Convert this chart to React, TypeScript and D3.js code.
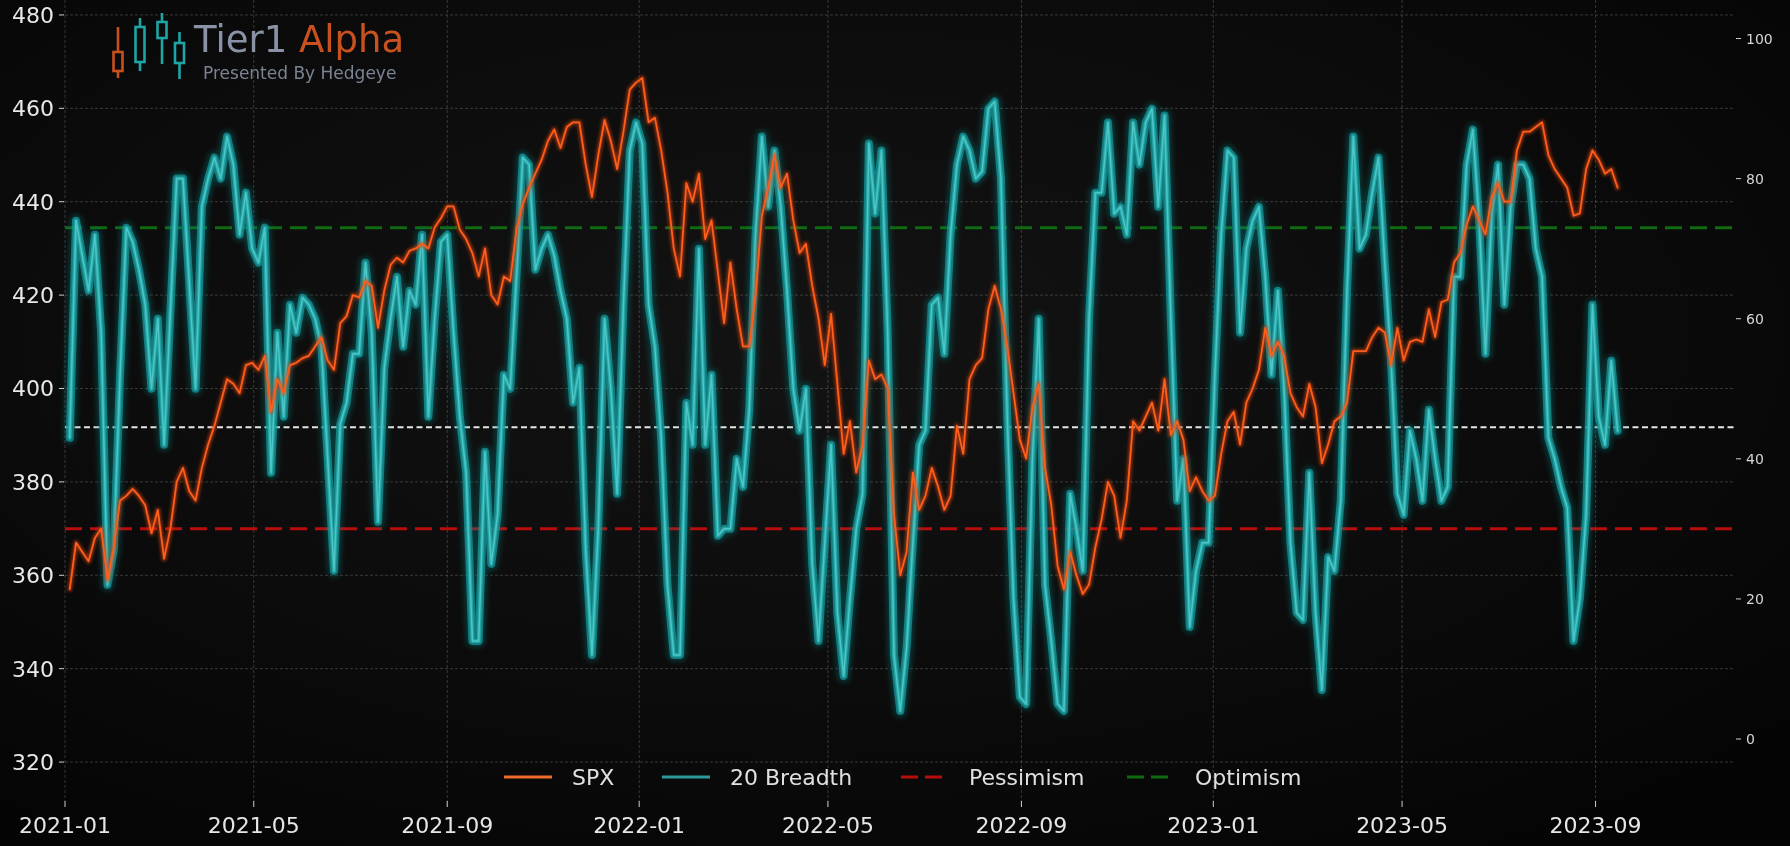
import React from 'react';
import * as d3 from 'd3';

// sampling grid: one reading every 4 calendar days from the first session
const startDate = '2021-01-04';
const stepDays = 4;

// SPX (adjusted), left axis
const spx = [
  357, 367, 365, 363, 368, 370, 359, 366, 376, 377, 378.5, 377, 375, 369, 374, 363.5, 370, 380, 383, 378,
  376, 383, 388, 392, 397, 402, 401, 399, 405, 405.5, 404, 407, 395, 402, 399, 405, 405.5, 406.5, 407, 409,
  411, 406, 404, 414, 415.5, 420, 419.5, 423, 422, 413, 421, 426.5, 428, 427, 429.5, 430, 431, 430, 434.5, 436.5,
  439, 439, 434, 432, 429, 424, 430, 420, 418, 424, 423, 434, 439.5, 443, 446, 449, 453, 455.5, 451.5, 456,
  457, 457, 448, 441, 450, 457.5, 453, 447, 455, 464, 465.5, 466.5, 457, 458, 451, 442, 430, 424, 444, 440,
  446, 432, 436, 425, 414, 427, 417, 409, 409, 420, 437, 443, 450, 443, 446, 436, 429, 431, 422, 415,
  405, 416, 401, 386, 393, 382, 388, 406, 402, 403, 400, 373, 360, 365, 382, 374, 377, 383, 379, 374,
  377, 392, 386, 402, 405, 406.5, 417, 422, 417, 409, 399, 389, 385, 396, 401, 383, 375, 362, 357, 365,
  360, 356, 358, 366, 372, 380, 377, 368, 376, 393, 391, 394, 397, 391, 402, 390, 393, 389, 378, 381,
  378, 376, 377, 386, 393, 395, 388, 397, 400, 404, 413, 407, 410, 407, 399, 396, 394, 401, 396, 384,
  388, 393, 394, 397, 408, 408, 408, 411, 413, 412, 405, 413, 406, 410, 410.5, 410, 417, 411, 418.5, 419,
  427, 429, 435, 439, 436, 433, 441, 444, 440, 440, 451, 455, 455, 456, 457, 450, 447, 445, 443, 437,
  437.5, 447, 451, 449, 446, 447, 443,
];

// 20-day breadth, right axis
const breadth = [
  43, 74, 69, 64, 72, 58, 22, 27, 52, 73, 71, 67, 62, 50, 60, 42, 61, 80, 80, 65,
  50, 76, 80, 83, 80, 86, 82, 72, 78, 70, 68, 73, 38, 58, 46, 62, 58, 63, 62, 60,
  56, 40, 24, 45, 48, 55, 55, 68, 58, 31, 53, 60, 66, 56, 64, 62, 72, 46, 60, 71,
  72, 58, 46, 38, 14, 14, 41, 25, 32, 52, 50, 66, 83, 82, 67, 70, 72, 69, 64, 60,
  48, 53, 27, 12, 30, 60, 50, 35, 62, 84, 88, 85, 62, 56, 43, 22, 12, 12, 48, 42,
  70, 42, 52, 29, 30, 30, 40, 36, 47, 72, 86, 76, 84, 76, 64, 50, 44, 50, 25, 14,
  28, 42, 18, 9, 20, 30, 35, 85, 75, 84, 58, 12, 4, 13, 28, 42, 44, 62, 63, 55,
  72, 82, 86, 84, 80, 81, 90, 91, 80, 46, 20, 6, 5, 40, 60, 22, 14, 5, 4, 35,
  30, 24, 60, 78, 78, 88, 75, 76, 72, 88, 82, 88, 90, 76, 89, 60, 34, 40, 16, 24,
  28, 28, 52, 72, 84, 83, 58, 70, 74, 76, 66, 52, 64, 50, 28, 18, 17, 38, 18, 7,
  26, 24, 34, 64, 86, 70, 72, 78, 83, 68, 54, 35, 32, 44, 40, 34, 47, 40, 34, 36,
  66, 66, 82, 87, 74, 55, 75, 82, 62, 76, 82, 82, 80, 70, 66, 43, 40, 36, 33, 14,
  20, 32, 62, 46, 42, 54, 44,
];

const pessimism = 30;
const optimism = 73;
const breadthMid = 44.5;

const leftTicks = [320, 340, 360, 380, 400, 420, 440, 460, 480];
const rightTicks = [0, 20, 40, 60, 80, 100];
const xTickLabels = ['2021-01', '2021-05', '2021-09', '2022-01', '2022-05', '2022-09', '2023-01', '2023-05', '2023-09'];
const legendLabels = ['SPX', '20 Breadth', 'Pessimism', 'Optimism'];

const W = 1790;
const H = 846;
const left = 65;
const right = 1734;
const top = 0;
const bottom = 801;

const parse = d3.timeParse('%Y-%m-%d');
const parseMonth = d3.timeParse('%Y-%m');

const App: React.FC = () => {
  const start = parse(startDate) as Date;
  const dates = spx.map((_, i) => d3.timeDay.offset(start, i * stepDays));

  const x = d3.scaleTime()
    .domain([parse('2021-01-01') as Date, parse('2023-11-28') as Date])
    .range([left, right]);
  const yL = d3.scaleLinear().domain([311.66, 483.2]).range([bottom, top]);
  const yR = d3.scaleLinear().domain([-8.85, 105.5]).range([bottom, top]);

  const spxLine = d3.line<number>()
    .x((_, i) => x(dates[i]))
    .y((d) => yL(d));
  const breadthLine = d3.line<number>()
    .x((_, i) => x(dates[i]))
    .y((d) => yR(d));

  const spxPath = spxLine(spx) || '';
  const breadthPath = breadthLine(breadth) || '';

  const font = 'DejaVu Sans, sans-serif';
  const grid = { stroke: '#8c8c8c', strokeOpacity: 0.45, strokeWidth: 0.8, strokeDasharray: '3,2' };

  // legend layout
  const legendY = 777;
  const legendX = [504, 662, 901, 1127];
  const handleLen = 48;
  const legendStyle = [
    { stroke: '#f06a2c', dash: '' },
    { stroke: '#2a9a9a', dash: '' },
    { stroke: '#b80d0d', dash: '17,7' },
    { stroke: '#0f6a12', dash: '17,7' },
  ];

  return (
    <svg
      width={W}
      height={H}
      style={{ position: 'fixed', left: 0, top: 0, display: 'block' }}
      fontFamily={font}
    >
      <defs>
        <radialGradient id="bg" cx="45%" cy="40%" r="75%">
          <stop offset="0%" stopColor="#131313" />
          <stop offset="60%" stopColor="#0b0b0b" />
          <stop offset="100%" stopColor="#040404" />
        </radialGradient>
        <filter id="blurT" x="-5%" y="-5%" width="110%" height="110%">
          <feGaussianBlur stdDeviation="2.5" />
        </filter>
        <filter id="blurO" x="-5%" y="-5%" width="110%" height="110%">
          <feGaussianBlur stdDeviation="1.4" />
        </filter>
      </defs>

      <rect width={W} height={H} fill="url(#bg)" />

      {/* grid */}
      <g>
        {leftTicks.map((t) => (
          <line key={'h' + t} x1={left} x2={right} y1={yL(t)} y2={yL(t)} {...grid} />
        ))}
        {xTickLabels.map((t) => {
          const xx = x(parseMonth(t) as Date);
          return <line key={'v' + t} x1={xx} x2={xx} y1={top} y2={bottom} {...grid} />;
        })}
      </g>

      {/* logo */}
      <g>
        <line x1={118} x2={118} y1={27} y2={78} stroke="#c8501e" strokeWidth={2.6} />
        <rect x={113.5} y={52} width={9} height={19} fill="#0b0b0b" stroke="#c8501e" strokeWidth={2.6} />
        <line x1={140} x2={140} y1={18} y2={71} stroke="#1ea5a5" strokeWidth={2.6} />
        <rect x={135.5} y={27} width={9} height={35} fill="#0b0b0b" stroke="#1ea5a5" strokeWidth={2.6} />
        <line x1={162} x2={162} y1={13} y2={64} stroke="#1ea5a5" strokeWidth={2.6} />
        <rect x={157.5} y={22} width={9} height={16} fill="#0b0b0b" stroke="#1ea5a5" strokeWidth={2.6} />
        <line x1={179.5} x2={179.5} y1={32} y2={79} stroke="#1ea5a5" strokeWidth={2.6} />
        <rect x={175} y={43} width={9} height={20} fill="#0b0b0b" stroke="#1ea5a5" strokeWidth={2.6} />
        <text x={194} y={52} fontSize={37} fill="#8a93a5">
          Tier1 <tspan fill="#c8521f">Alpha</tspan>
        </text>
        <text x={203} y={79} fontSize={17} fill="#7b8393">Presented By Hedgeye</text>
      </g>

      {/* reference levels */}
      <line x1={left} x2={right} y1={yR(breadthMid)} y2={yR(breadthMid)} stroke="#e6e6e6" strokeWidth={2} strokeDasharray="6,3.5" />
      <line x1={left} x2={right} y1={yR(pessimism)} y2={yR(pessimism)} stroke="#b80d0d" strokeWidth={3} strokeDasharray="17,8" />
      <line x1={left} x2={right} y1={yR(optimism)} y2={yR(optimism)} stroke="#0f6a12" strokeWidth={3} strokeDasharray="17,8" />

      {/* breadth */}
      <g fill="none" strokeLinejoin="round" strokeLinecap="round">
        <path d={breadthPath} stroke="#0e8888" strokeWidth={13} strokeOpacity={0.35} filter="url(#blurT)" />
        <path d={breadthPath} stroke="#17959a" strokeWidth={8} strokeOpacity={0.75} />
        <path d={breadthPath} stroke="#27a9a9" strokeWidth={4} strokeOpacity={0.9} />
        <path d={breadthPath} stroke="#4cc6c6" strokeWidth={1.5} />
      </g>

      {/* spx */}
      <g fill="none" strokeLinejoin="round" strokeLinecap="round">
        <path d={spxPath} stroke="#d2400c" strokeWidth={5} strokeOpacity={0.6} filter="url(#blurO)" />
        <path d={spxPath} stroke="#ff5e1a" strokeWidth={1.8} />
      </g>

      {/* left axis */}
      <g fill="#e8e8e8" fontSize={22} textAnchor="end">
        {leftTicks.map((t) => (
          <g key={'l' + t}>
            <line x1={left - 6} x2={left - 1} y1={yL(t)} y2={yL(t)} stroke="#d0d0d0" strokeWidth={1} />
            <text x={54} y={yL(t) + 8}>{t}</text>
          </g>
        ))}
      </g>

      {/* right axis */}
      <g fill="#d6d6d6" fontSize={14}>
        {rightTicks.map((t) => (
          <g key={'r' + t}>
            <line x1={right + 2} x2={right + 7} y1={yR(t)} y2={yR(t)} stroke="#d0d0d0" strokeWidth={1} />
            <text x={right + 12} y={yR(t) + 5}>{t}</text>
          </g>
        ))}
      </g>

      {/* x axis */}
      <g fill="#e6e6e6" fontSize={22} textAnchor="middle">
        {xTickLabels.map((t) => {
          const xx = x(parseMonth(t) as Date);
          return (
            <g key={'x' + t}>
              <line x1={xx} x2={xx} y1={bottom} y2={bottom + 6} stroke="#d0d0d0" strokeWidth={1} />
              <text x={xx} y={833}>{t}</text>
            </g>
          );
        })}
      </g>

      {/* legend */}
      <g fontSize={22} fill="#e0e0e0">
        {legendLabels.map((label, i) => (
          <g key={label}>
            <line
              x1={legendX[i]}
              x2={legendX[i] + handleLen}
              y1={legendY}
              y2={legendY}
              stroke={legendStyle[i].stroke}
              strokeWidth={3}
              strokeDasharray={legendStyle[i].dash || undefined}
            />
            <text x={legendX[i] + handleLen + 20} y={legendY + 8}>{label}</text>
          </g>
        ))}
      </g>
    </svg>
  );
};

export default App;
